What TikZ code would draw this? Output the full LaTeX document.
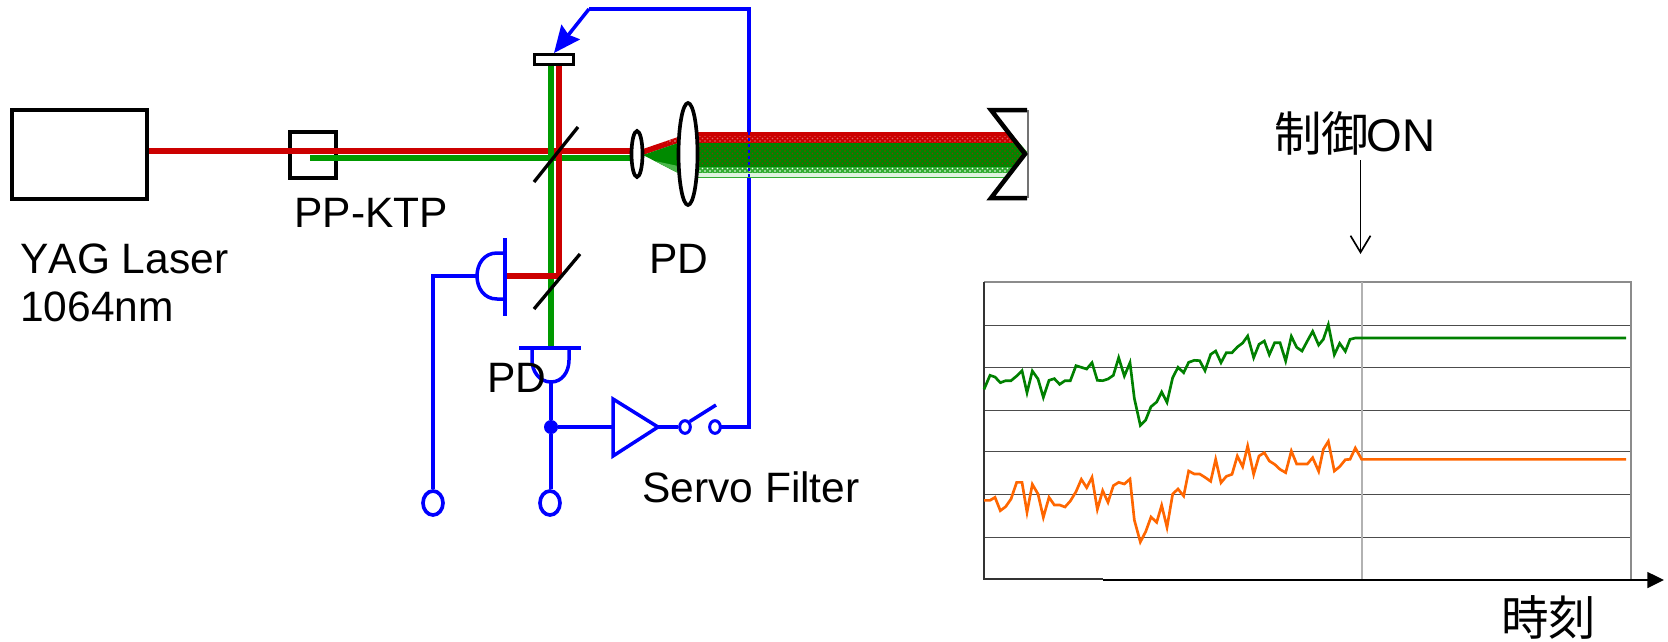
\documentclass[tikz,border=0pt]{standalone}
\usepackage{fontspec}
\setmainfont{Liberation Sans}[Kerning=Off]
\newfontfamily\cjk{Noto Sans CJK JP}
\usetikzlibrary{arrows.meta,patterns,shapes.geometric}
\definecolor{beamred}{HTML}{CC0000}
\definecolor{beamgreen}{HTML}{009900}
\definecolor{sigblue}{HTML}{0000FF}
\definecolor{seriesgreen}{HTML}{008000}
\definecolor{seriesorange}{HTML}{FF6600}
\tikzset{
  lbl/.style={inner sep=0pt,anchor=base west,font=\fontsize{25.5}{30}\selectfont},
  cjklbl/.style={inner sep=0pt,anchor=base west,font=\fontsize{28.5}{30}\selectfont},
  optbox/.style={draw=black,line width=2pt,fill=none,inner sep=0pt},
  redbeam/.style={draw=beamred,line width=3.4pt},
  greenbeam/.style={draw=beamgreen,line width=3.4pt},
  wire/.style={draw=sigblue,line width=2.1pt},
  term/.style={draw=sigblue,line width=2.2pt,fill=white,ellipse,inner sep=0pt},
  splitter/.style={draw=black,line width=2pt},
  lens/.style={draw=black,line width=2.2pt,fill=white},
  grid/.style={draw=black!70,line width=0.6pt},
}
\begin{document}
\begin{tikzpicture}[x=0.6pt,y=-0.6pt,line join=miter]
\useasboundingbox (0,0) rectangle (1668,641);
% optical boxes
\node[optbox,minimum width=81pt,minimum height=53.4pt] (laser) at (79.5,154.5) {};
\node[optbox,minimum width=27.6pt,minimum height=27.6pt] (ktp) at (313,155) {};
\coordinate (redend) at (632,151);
\coordinate (greenstart) at (310,158);
\coordinate (greenend) at (632,158);
\coordinate (redtop) at (559,65);
\coordinate (greentop) at (551,65);
\coordinate (redbot) at (559,276);
\coordinate (redpd) at (505,276);
\coordinate (greenbot) at (551,347);
% blue feedback under the beam
\coordinate (fbcorner) at (749,9);
\coordinate (fbmid) at (589,9);
\coordinate (sw2) at (715,427);
\coordinate (fbdown) at (749,427);
\draw[wire,line join=miter] (sw2) -- (fbdown) -- (fbcorner) -- (fbmid);
% beams
\draw[greenbeam] (greenstart) -- (greenend);
\draw[redbeam] (laser.east |- redend) -- (redend);
\draw[greenbeam] (greentop) -- (greenbot);
\draw[redbeam] (redtop) -- (redbot);
\draw[redbeam] (redbot) -- (redpd);
\node[optbox,line width=1.6pt,fill=white,minimum width=23.4pt,minimum height=6.2pt] (pzt) at (554,59.5) {};
\draw[wire,-{Stealth[length=16pt,width=14pt,inset=2pt]}] (fbmid) -- (pzt.north);
% expanding beam
\fill[beamred] (643,149) -- (678,137) -- (678,143) -- (643,155) -- cycle;
\fill[pattern=crosshatch dots,pattern color=white!60!beamred] (660,143) -- (678,137) -- (678,143) -- cycle;
\fill[beamgreen!90!black] (643,155) -- (678,143) -- (678,173) -- cycle;
\fill[beamgreen!70!white] (655,161) -- (678,166) -- (678,173) -- cycle;
\begin{scope}
\clip (690,132) -- (1010,132) -- (1028,153) -- (1007,178) -- (690,178) -- cycle;
\fill[beamred] (690,132) rectangle (1030,143);
\fill[pattern=crosshatch dots,pattern color=white!40!beamred] (690,136) rectangle (1030,143);
\fill[beamgreen!88!black] (690,143) rectangle (1030,178);
\fill[pattern=crosshatch dots,pattern color=beamred!60!beamgreen] (690,145) rectangle (1030,165);
\fill[beamgreen!80!white] (690,167) rectangle (1030,178);
\fill[pattern=crosshatch dots,pattern color=white] (690,167) rectangle (1030,173);
\fill[white!88!beamgreen] (690,173) rectangle (1030,176.5);
\end{scope}
\draw[sigblue,line width=1.6pt,dotted] (749,132) -- (749,178);
% lenses, splitters, mirror
\draw[lens] (637,154) ellipse [x radius=5.5,y radius=23];
\draw[lens] (688,154) ellipse [x radius=9.5,y radius=51];
\draw[splitter] (534,182) -- (578,127);
\draw[splitter] (534,309) -- (580,254);
\draw[black!55,line width=0.8pt] (1028,110) -- (1028,198);
\draw[black,line width=2.7pt] (1027,110) -- (991,110) -- (1025,154) -- (991,198) -- (1027,198);
% photodiode 1
\draw[wire] (505,238) -- (505,316);
\draw[wire] (505,253) -- (497,253) .. controls (484,253) and (477,264) .. (477,276) .. controls (477,288) and (484,299) .. (497,299) -- (505,299);
\coordinate (pd1out) at (477,276);
\node[term,minimum width=12pt,minimum height=14.4pt] (termA) at (433,503) {};
\draw[wire] (pd1out) -- (433,276) -- (termA.north);
% photodiode 2
\draw[wire] (519,348) -- (581,348);
\draw[wire] (532,348) -- (532,360) .. controls (532,372) and (540,382) .. (551,382) .. controls (562,382) and (569,372) .. (569,360) -- (569,348);
\coordinate (pd2out) at (551,382);
\node[term,minimum width=12pt,minimum height=14.4pt] (termB) at (550,503) {};
\node[circle,fill=sigblue,inner sep=0pt,minimum size=8.4pt] (junction) at (551,427) {};
\draw[wire] (pd2out) -- (junction) -- (junction |- termB.north);
% amplifier and switch
\coordinate (ampA) at (613,399);
\coordinate (ampB) at (658,427);
\coordinate (ampC) at (613,456);
\draw[wire,line join=miter] (ampA) -- (ampB) -- (ampC) -- cycle;
\draw[wire] (junction) -- (613,427);
\node[term,minimum width=6.4pt,minimum height=7.6pt,line width=1.8pt] (swA) at (685,427) {};
\node[term,minimum width=6.4pt,minimum height=7.6pt,line width=1.8pt] (swB) at (715,427) {};
\draw[wire] (ampB) -- (swA.west);
\draw[wire] (swA.north east) -- (716,405);
% labels
\node[inner sep=0pt,anchor=north west,align=left,font=\fontsize{25.5}{28.8}\selectfont] (yag) at (20,243) {YAG Laser\\1064nm};
\node[lbl] (ktplabel) at (294,227) {PP-KTP};
\node[lbl] (pdA) at (649,273) {PD};
\node[lbl] (pdB) at (487,392) {PD};
\node[lbl] (servo) at (642,502) {Servo Filter};
\node[cjklbl] (ctrl) at (1274,151) {{\cjk 制御}\kern-1.5pt{\fontsize{27.5}{30}\selectfont ON}};
\node[cjklbl] (timelabel) at (1501,635) {\cjk 時刻};
% chart
\coordinate (ctrlA) at (1360.5,160);
\coordinate (ctrlB) at (1360.5,254);
\draw[black,line width=1pt,-{Straight Barb[length=10pt,width=12pt]}] (ctrlA) -- (ctrlB);
\foreach \gy in {325,367.5,410.5,451,494,537}
  \draw[grid] (984,\gy) -- (1631,\gy);
\draw[black!45,line width=0.8pt] (984,282) -- (1631,282) -- (1631,580);
\draw[black!30,line width=0.7pt] (1362,282) -- (1362,580);
\draw[black!80,line width=0.8pt] (984,282) -- (984,579) -- (1103,579);
\coordinate (axisA) at (1103,580);
\coordinate (axisB) at (1664,580);
\draw[black,line width=1.5pt,-{Triangle[length=10pt,width=9.4pt]}] (axisA) -- (axisB);
\begin{scope}[shift={(960,270)},x=0.2pt,y=-0.2pt]
\draw[seriesgreen,line width=1.6pt] plot coordinates {(72,358)(90,316)(105,321)(121,338)(137,332)(153,332)(170,318)(186,302)(201,368)(217,303)(234,327)(250,382)(267,331)(283,326)(299,343)(315,332)(331,332)(348,287)(364,292)(380,297)(396,278)(412,331)(428,332)(444,327)(460,316)(476,263)(493,318)(510,278)(523,385)(541,466)(557,450)(573,410)(590,396)(605,366)(621,397)(638,323)(654,292)(671,308)(686,277)(703,271)(719,272)(735,302)(752,253)(767,243)(783,278)(799,248)(816,248)(832,231)(848,219)(863,198)(881,263)(897,223)(913,213)(928,254)(944,218)(960,218)(977,273)(994,199)(1010,232)(1026,243)(1042,213)(1058,184)(1076,225)(1090,208)(1105,164)(1123,254)(1139,220)(1156,244)(1170,208)(1186,204)(1205,204)(1998,204)};
\draw[seriesorange,line width=1.6pt] plot coordinates {(72,691)(90,691)(105,682)(121,722)(137,710)(153,687)(170,637)(186,637)(201,727)(217,643)(234,672)(250,742)(267,682)(283,705)(299,705)(315,711)(331,693)(348,665)(364,628)(380,653)(396,622)(412,718)(428,662)(444,697)(460,647)(476,637)(493,642)(510,627)(523,750)(541,816)(557,785)(573,741)(590,757)(605,706)(621,772)(638,672)(654,657)(671,678)(686,603)(703,612)(719,612)(735,622)(752,634)(767,568)(783,638)(799,619)(816,613)(832,558)(848,590)(863,528)(881,613)(897,558)(913,548)(928,573)(944,583)(960,598)(977,608)(994,543)(1010,582)(1026,582)(1042,582)(1058,563)(1076,604)(1090,538)(1105,514)(1123,603)(1139,590)(1156,569)(1170,568)(1186,534)(1205,568)(1998,568)};
\end{scope}
\end{tikzpicture}
\end{document}
